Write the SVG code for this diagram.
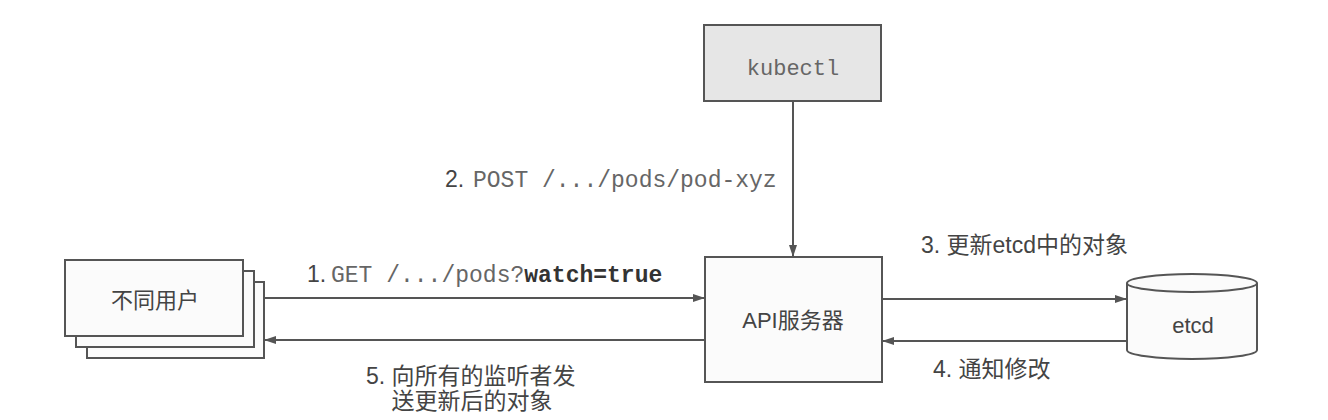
<svg xmlns="http://www.w3.org/2000/svg" width="1328" height="420" viewBox="0 0 1328 420">
<style>
.box{stroke:#555;stroke-width:2;fill:#fbfbfb}
.gray{fill:#e6e6e6}
.sans{font-family:"Liberation Sans","Noto Sans CJK SC",sans-serif;font-size:22px;fill:#444}
.lbl{font-size:23px}
.mono{font-family:"Liberation Mono",monospace;font-size:23px;fill:#666}
.bold{font-weight:bold;fill:#333}
.conn line{stroke:#555;stroke-width:2;marker-end:url(#arr)}
</style>
<defs>
<marker id="arr" viewBox="0 0 12 8" refX="11" refY="4" markerWidth="12" markerHeight="8" markerUnits="userSpaceOnUse" orient="auto">
<path d="M0,0 L12,4 L0,8 z" fill="#555"/>
</marker>
</defs>
<rect width="1328" height="420" fill="#ffffff"/>
<g id="users">
<rect class="box" x="87" y="282" width="177" height="76"/>
<rect class="box" x="76" y="271" width="178" height="76"/>
<rect class="box" x="65" y="260" width="178" height="76"/>
<text class="sans" x="155" y="308" text-anchor="middle">不同用户</text>
</g>
<g id="kubectl">
<rect class="box gray" x="704" y="25" width="177" height="76"/>
<text class="mono" x="793" y="75" text-anchor="middle" style="font-size:22px">kubectl</text>
</g>
<g id="api">
<rect class="box" x="705" y="257" width="177" height="125"/>
<text class="sans" x="793" y="328" text-anchor="middle">API服务器</text>
</g>
<g id="etcd">
<path class="box" d="M1127,283 L1127,350 A65,9 0 0 0 1257,350 L1257,283 A65,9 0 0 0 1127,283 Z"/>
<path d="M1127,283 A65,9 0 0 0 1257,283" fill="none" stroke="#555" stroke-width="2"/>
<text class="sans" x="1193" y="333" text-anchor="middle">etcd</text>
</g>
<g class="conn" id="connectors">
<line x1="793" y1="101" x2="793" y2="256"/>
<line x1="264" y1="298" x2="704" y2="298"/>
<line x1="705" y1="340" x2="265" y2="340"/>
<line x1="882" y1="299" x2="1126" y2="299"/>
<line x1="1127" y1="341" x2="883" y2="341"/>
</g>
<g id="labels">
<text y="187"><tspan class="sans lbl" x="445">2.</tspan><tspan class="mono" x="473">POST /.../pods/pod-xyz</tspan></text>
<text y="282"><tspan class="sans lbl" x="307">1.</tspan><tspan class="mono" x="331">GET /.../pods?</tspan><tspan class="mono bold">watch=true</tspan></text>
<text class="sans lbl" x="921" y="253">3. 更新etcd中的对象</text>
<text class="sans lbl" x="933" y="377">4. 通知修改</text>
<text class="sans lbl" x="366" y="384">5. 向所有的监听者发</text>
<text class="sans lbl" x="472" y="409" text-anchor="middle">送更新后的对象</text>
</g>
</svg>
